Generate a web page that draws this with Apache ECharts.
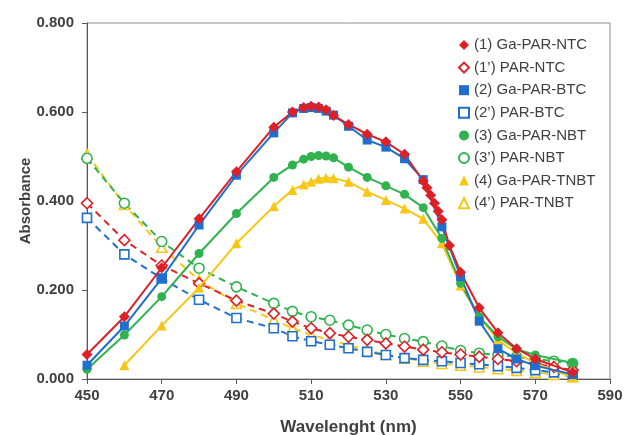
<!DOCTYPE html>
<html><head><meta charset="utf-8">
<script src="https://cdn.jsdelivr.net/npm/echarts@6/dist/echarts.min.js"></script>
<style>html,body{margin:0;padding:0;background:#fff}#c{width:624px;height:435px}</style>
</head><body><div id="c"></div>
<script>
// Wavelengths (nm)
const wlSolid = [450,460,470,480,490,500,505,508,510,512,514,516,520,525,530,535,540,545,550,555,560,565,570,580];
const wlRed   = [450,460,470,480,490,500,505,508,510,512,514,516,520,525,530,535,540,541,542,543,544,545,547,550,555,560,565,570,580];
const wlYellow= [460,470,480,490,500,505,508,510,512,514,516,520,525,530,535,540,545,550,555,560,565,570,580];
const wlDash  = [450,460,470,480,490,500,505,510,515,520,525,530,535,540,545,550,555,560,565,570,575,580];

// Absorbance values
const gaParNtc  = [0.055,0.140,0.250,0.360,0.466,0.566,0.600,0.610,0.613,0.611,0.605,0.592,0.572,0.550,0.533,0.505,0.445,0.430,0.413,0.395,0.377,0.358,0.300,0.240,0.160,0.104,0.068,0.045,0.015];
const parNtc    = [0.395,0.312,0.255,0.215,0.176,0.147,0.129,0.114,0.103,0.095,0.088,0.080,0.073,0.066,0.060,0.055,0.050,0.045,0.040,0.034,0.027,0.020];
const gaParBtc  = [0.031,0.119,0.226,0.346,0.458,0.553,0.598,0.608,0.610,0.608,0.602,0.593,0.568,0.537,0.521,0.495,0.448,0.342,0.230,0.130,0.068,0.045,0.030,0.010];
const parBtc    = [0.362,0.280,0.226,0.178,0.137,0.114,0.096,0.085,0.077,0.069,0.061,0.054,0.047,0.043,0.040,0.036,0.033,0.029,0.025,0.020,0.015,0.010];
const gaParNbt  = [0.022,0.099,0.185,0.282,0.372,0.453,0.481,0.494,0.500,0.502,0.501,0.497,0.476,0.453,0.434,0.415,0.385,0.316,0.215,0.140,0.095,0.067,0.054,0.036];
const parNbt    = [0.496,0.395,0.309,0.249,0.207,0.170,0.152,0.140,0.132,0.121,0.110,0.100,0.091,0.084,0.074,0.064,0.058,0.054,0.050,0.045,0.040,0.035];
const gaParTnbt = [0.031,0.120,0.205,0.305,0.388,0.425,0.437,0.443,0.450,0.452,0.451,0.443,0.421,0.402,0.383,0.360,0.305,0.210,0.140,0.088,0.058,0.035,0.004];
const parTnbt   = [0.505,0.392,0.296,0.222,0.170,0.133,0.114,0.099,0.088,0.076,0.065,0.055,0.047,0.040,0.035,0.031,0.027,0.023,0.019,0.015,0.010,0.005];

const names = ['(1) Ga-PAR-NTC','(1’) PAR-NTC','(2) Ga-PAR-BTC','(2’) PAR-BTC','(3) Ga-PAR-NBT','(3’) PAR-NBT','(4) Ga-PAR-TNBT','(4’) PAR-TNBT'];
const xTicks = [450,470,490,510,530,550,570,590];
const yTicks = [0,0.2,0.4,0.6,0.8];

const RED='#dd1f26', BLUE='#1f6fd0', GREEN='#30b24e', YELLOW='#f6c716';
const zip = (xs, ys) => xs.map((x,i)=>[x, ys[i]]);

function solid(name, xs, ys, color, symbol, size){
  return {name, type:'line', data:zip(xs,ys), symbol, symbolSize:size,
    lineStyle:{color, width:2}, itemStyle:{color, borderWidth:0}, z:3};
}
function dashed(name, xs, ys, color, symbol, size){
  return {name, type:'line', data:zip(xs,ys), symbol, symbolSize:size,
    lineStyle:{color, width:2, type:[7,5]}, itemStyle:{color:'#ffffff', borderColor:color, borderWidth:1.6}, z:2};
}
const labelFont = {fontFamily:'Liberation Sans, Arial, sans-serif', fontWeight:'bold', fontSize:15, color:'#404040'};

const chart = echarts.init(document.getElementById('c'), null, {renderer:'canvas'});
chart.setOption({
  animation:false,
  backgroundColor:'#fff',
  grid:{left:87, right:14, top:23, bottom:56, show:true, borderColor:'#8c8c8c', borderWidth:1,
        containLabel:false, outerBoundsMode:'none'},
  legend:{
    orient:'vertical', left:453, top:32, itemWidth:10, itemHeight:10, itemGap:6.6,
    textStyle:{fontFamily:'Liberation Sans, Arial, sans-serif', fontSize:15, color:'#404040', lineHeight:16},
    data:[
      {name:names[0], icon:'diamond'},{name:names[1], icon:'diamond'},
      {name:names[2], icon:'rect'},{name:names[3], icon:'rect'},
      {name:names[4], icon:'circle'},{name:names[5], icon:'circle'},
      {name:names[6], icon:'triangle'},{name:names[7], icon:'triangle'}
    ]
  },
  xAxis:{type:'value', min:xTicks[0], max:xTicks[xTicks.length-1], interval:20,
    name:'Wavelenght (nm)', nameLocation:'middle', nameGap:40, nameMoveOverlap:false,
    nameTextStyle:{fontFamily:'Liberation Sans, Arial, sans-serif', fontWeight:'bold', fontSize:17, color:'#404040'},
    axisLine:{lineStyle:{color:'#595959', width:1}}, axisTick:{show:true, length:5, lineStyle:{color:'#595959'}},
    axisLabel:Object.assign({margin:9}, labelFont), splitLine:{show:false}},
  yAxis:{type:'value', min:yTicks[0], max:yTicks[yTicks.length-1], interval:0.2,
    name:'Absorbance', nameLocation:'middle', nameGap:54, nameMoveOverlap:false,
    nameTextStyle:{fontFamily:'Liberation Sans, Arial, sans-serif', fontWeight:'bold', fontSize:15, color:'#404040'},
    axisLine:{show:true, lineStyle:{color:'#595959', width:1}}, axisTick:{show:true, length:5, lineStyle:{color:'#595959'}},
    axisLabel:Object.assign({margin:13, formatter:v=>v.toFixed(3)}, labelFont), splitLine:{show:false}},
  series:[
    dashed(names[7], wlDash, parTnbt, YELLOW, 'triangle', 10),
    dashed(names[5], wlDash, parNbt, GREEN, 'circle', 10),
    dashed(names[3], wlDash, parBtc, BLUE, 'rect', 9),
    dashed(names[1], wlDash, parNtc, RED, 'diamond', 11),
    solid(names[6], wlYellow, gaParTnbt, YELLOW, 'triangle', 10),
    solid(names[4], wlSolid, gaParNbt, GREEN, 'circle', 9),
    solid(names[2], wlSolid, gaParBtc, BLUE, 'rect', 9),
    solid(names[0], wlRed, gaParNtc, RED, 'diamond', 11)
  ]
});
</script></body></html>
